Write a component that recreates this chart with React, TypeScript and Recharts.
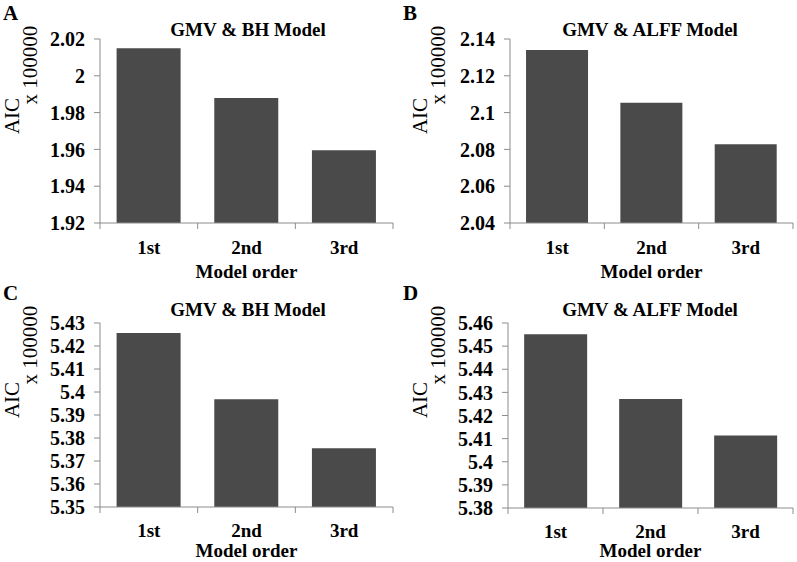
import { BarChart, Bar, XAxis, YAxis } from 'recharts';

// categories and AIC values (x 100000)
const orders = ['1st', '2nd', '3rd'];
const aicBH1 = [2.015, 1.988, 1.9595];
const aicALFF1 = [2.134, 2.1054, 2.0828];
const aicBH2 = [5.4256, 5.3968, 5.3755];
const aicALFF2 = [5.4551, 5.4271, 5.4113];

const ticksA = [1.92, 1.94, 1.96, 1.98, 2.0, 2.02];
const ticksB = [2.04, 2.06, 2.08, 2.1, 2.12, 2.14];
const ticksC = [5.35, 5.36, 5.37, 5.38, 5.39, 5.4, 5.41, 5.42, 5.43];
const ticksD = [5.38, 5.39, 5.4, 5.41, 5.42, 5.43, 5.44, 5.45, 5.46];

const FONT = "'Liberation Serif', 'Times New Roman', 'DejaVu Serif', serif";
const AXIS = '#8c8c8c';
const BAR = '#4a4a4a';

const fmt = (v: number) => String(parseFloat(v.toFixed(2)));

type PanelProps = {
  letter: string;
  title: string;
  values: number[];
  ticks: number[];
  left: number;
  top: number;
  width: number;
  height: number;
  margin: { top: number; right: number; bottom: number; left: number };
  xAxisHeight: number;
  titleX: number;
  aicX: number;
  aicY: number;
  unitX: number;
  unitY: number;
  catDy: number;
  nameY: number;
};

const YTick = (props: any) => {
  const { x, y, payload } = props;
  return (
    <text
      x={x}
      y={y}
      dy="0.36em"
      textAnchor="end"
      style={{ fontFamily: FONT, fontWeight: 'bold', fontSize: 20, fill: '#000' }}
    >
      {fmt(payload.value)}
    </text>
  );
};

function Panel(p: PanelProps) {
  const data = orders.map((name, i) => ({ name, aic: p.values[i] }));
  const yAxisWidth = 60;
  const plotLeft = p.margin.left + yAxisWidth;
  const plotWidth = p.width - plotLeft - p.margin.right;
  const plotBottom = p.height - p.margin.bottom - p.xAxisHeight;
  const band = plotWidth / orders.length;

  // Excel-style category axis: tick marks sit between the categories
  const XTick = (props: any) => {
    const { x, payload, index } = props;
    return (
      <g>
        <line x1={x - band / 2} x2={x - band / 2} y1={plotBottom} y2={plotBottom + 6} stroke={AXIS} />
        {index === orders.length - 1 && (
          <line x1={x + band / 2} x2={x + band / 2} y1={plotBottom} y2={plotBottom + 6} stroke={AXIS} />
        )}
        <text
          x={x}
          y={plotBottom + p.catDy}
          textAnchor="middle"
          style={{ fontFamily: FONT, fontWeight: 'bold', fontSize: 19, fill: '#000' }}
        >
          {payload.value}
        </text>
      </g>
    );
  };

  return (
    <div style={{ position: 'absolute', left: p.left, top: p.top, width: p.width, height: p.height, fontFamily: FONT }}>
      <BarChart width={p.width} height={p.height} data={data} margin={p.margin} barCategoryGap="17%">
        <XAxis
          dataKey="name"
          height={p.xAxisHeight}
          interval={0}
          tickLine={false}
          axisLine={{ stroke: AXIS }}
          tick={XTick}
        />
        <YAxis
          width={yAxisWidth}
          domain={[p.ticks[0], p.ticks[p.ticks.length - 1]]}
          ticks={p.ticks}
          interval={0}
          allowDataOverflow
          tickSize={6}
          tickMargin={9}
          axisLine={{ stroke: AXIS }}
          tickLine={{ stroke: AXIS }}
          tick={YTick}
        />
        <Bar dataKey="aic" fill={BAR} isAnimationActive={false} />
      </BarChart>
      <svg
        width={p.width}
        height={p.height}
        style={{ position: 'absolute', left: 0, top: 0, pointerEvents: 'none', fontFamily: FONT, overflow: 'visible' }}
      >
        <text x={3} y={20} style={{ fontWeight: 'bold', fontSize: 21 }} fill="#000">
          {p.letter}
        </text>
        <text x={p.titleX} y={36} textAnchor="middle" style={{ fontWeight: 'bold', fontSize: 19 }} fill="#000">
          {p.title}
        </text>
        <text
          x={plotLeft + plotWidth / 2}
          y={p.nameY}
          textAnchor="middle"
          style={{ fontWeight: 'bold', fontSize: 19 }}
          fill="#000"
        >
          Model order
        </text>
        <text
          x={p.aicX}
          y={p.aicY}
          textAnchor="middle"
          dominantBaseline="central"
          style={{ fontSize: 21 }}
          fill="#000"
          transform={`rotate(-90 ${p.aicX} ${p.aicY})`}
        >
          AIC
        </text>
        <text
          x={p.unitX}
          y={p.unitY}
          textAnchor="middle"
          dominantBaseline="central"
          style={{ fontSize: 21 }}
          fill="#000"
          transform={`rotate(-90 ${p.unitX} ${p.unitY})`}
        >
          x 100000
        </text>
      </svg>
    </div>
  );
}

export default function App() {
  return (
    <div style={{ position: 'absolute', left: 0, top: 0, width: 797, height: 562, background: '#fff', overflow: 'hidden' }}>
      <Panel
        letter="A"
        title="GMV & BH Model"
        values={aicBH1}
        ticks={ticksA}
        left={0}
        top={0}
        width={400}
        height={280}
        margin={{ top: 39, right: 7, bottom: 0, left: 40 }}
        xAxisHeight={57}
        titleX={248}
        aicX={12}
        aicY={116}
        unitX={30}
        unitY={65}
        catDy={31}
        nameY={278}
      />
      <Panel
        letter="B"
        title="GMV & ALFF Model"
        values={aicALFF1}
        ticks={ticksB}
        left={400}
        top={0}
        width={397}
        height={280}
        margin={{ top: 39, right: 4, bottom: 0, left: 50 }}
        xAxisHeight={57}
        titleX={250}
        aicX={20}
        aicY={116}
        unitX={38}
        unitY={65}
        catDy={31}
        nameY={278}
      />
      <Panel
        letter="C"
        title="GMV & BH Model"
        values={aicBH2}
        ticks={ticksC}
        left={0}
        top={280}
        width={400}
        height={282}
        margin={{ top: 43, right: 7, bottom: 0, left: 40 }}
        xAxisHeight={55}
        titleX={248}
        aicX={12}
        aicY={120}
        unitX={30}
        unitY={65}
        catDy={30}
        nameY={277}
      />
      <Panel
        letter="D"
        title="GMV & ALFF Model"
        values={aicALFF2}
        ticks={ticksD}
        left={400}
        top={280}
        width={397}
        height={282}
        margin={{ top: 43, right: 4, bottom: 0, left: 48 }}
        xAxisHeight={54}
        titleX={250}
        aicX={20}
        aicY={120}
        unitX={38}
        unitY={65}
        catDy={30}
        nameY={277}
      />
    </div>
  );
}
